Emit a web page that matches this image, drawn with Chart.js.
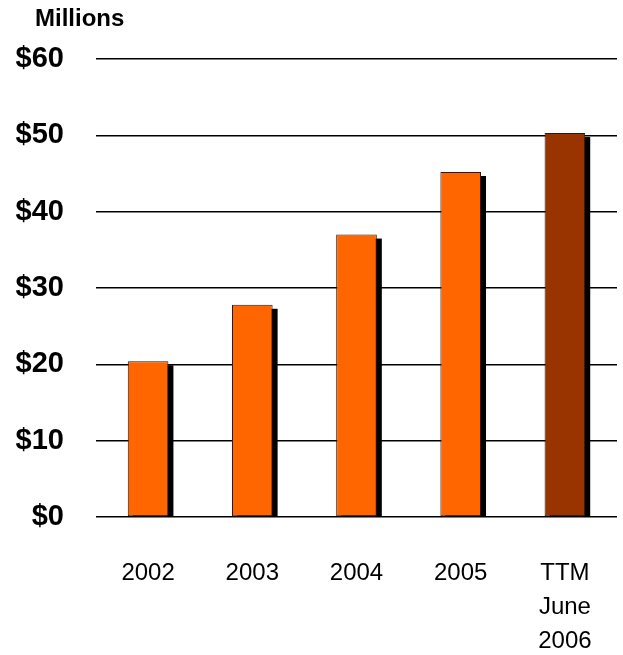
<!DOCTYPE html>
<html>
<head>
<meta charset="utf-8">
<script src="https://cdn.jsdelivr.net/npm/chart.js@4"></script>
<style>
  html, body { margin: 0; padding: 0; background: #fff; }
  #wrap { width: 623px; height: 655px; }
</style>
</head>
<body>
<div id="wrap"><canvas id="revChart"></canvas></div>
<script>
// data
const periodos = ['2002', '2003', '2004', '2005', ['TTM', 'June', '2006']];
const ingresos = [20.4, 27.8, 37.0, 45.2, 50.3];
const colores = ['#FF6600', '#FF6600', '#FF6600', '#FF6600', '#993300'];
const yTicks = [0, 10, 20, 30, 40, 50, 60];

// black drop shadow behind each bar, taken from the bar elements
const sombra = {
  id: 'sombra',
  beforeDatasetsDraw(chart) {
    const ctx = chart.ctx;
    const meta = chart.getDatasetMeta(0);
    ctx.save();
    ctx.fillStyle = '#000';
    meta.data.forEach(bar => {
      const p = bar.getProps(['x', 'y', 'width', 'base'], true);
      const izq = p.x - p.width / 2 + 5;
      const arriba = p.y + 4;
      ctx.fillRect(izq, arriba, p.width, p.base - arriba);
    });
    ctx.restore();
  }
};

// "Millions" label top-left
const unidades = {
  id: 'unidades',
  afterDraw(chart) {
    const ctx = chart.ctx;
    ctx.save();
    ctx.font = 'bold 24px "Liberation Sans", Arial, sans-serif';
    ctx.fillStyle = '#000';
    ctx.textBaseline = 'middle';
    ctx.textAlign = 'left';
    ctx.fillText('Millions', 35, 19);
    ctx.restore();
  }
};

const grafico = document.getElementById('revChart');
new Chart(grafico, {
  type: 'bar',
  data: {
    labels: periodos,
    datasets: [{
      data: ingresos,
      backgroundColor: colores,
      borderColor: '#2a1a10',
      borderWidth: 1,
      borderSkipped: false,
      categoryPercentage: 1,
      barPercentage: 0.39
    }]
  },
  plugins: [sombra, unidades],
  options: {
    responsive: true,
    maintainAspectRatio: false,
    animation: false,
    layout: { padding: { top: 59, right: 6, bottom: 0, left: 0 } },
    plugins: {
      legend: { display: false },
      tooltip: { enabled: false }
    },
    scales: {
      y: {
        min: 0,
        max: 60,
        afterFit: (s) => { s.width = 96; },
        afterBuildTicks: (s) => { s.ticks = yTicks.map(v => ({ value: v })); },
        border: { display: false },
        grid: { color: '#000', lineWidth: 1.5, drawTicks: false },
        ticks: {
          padding: 32,
          color: '#000',
          font: { family: '"Liberation Sans", Arial, sans-serif', size: 29, weight: 'bold' },
          callback: (v) => '$' + v
        }
      },
      x: {
        afterFit: (s) => { s.height = 138; s.paddingLeft = 0; s.paddingRight = 0; },
        border: { display: false },
        grid: { display: false, drawTicks: false },
        ticks: {
          padding: 39,
          color: '#000',
          maxRotation: 0,
          autoSkip: false,
          font: { family: '"Liberation Sans", Arial, sans-serif', size: 24, lineHeight: 1.42 }
        }
      }
    }
  }
});
</script>
</body>
</html>
